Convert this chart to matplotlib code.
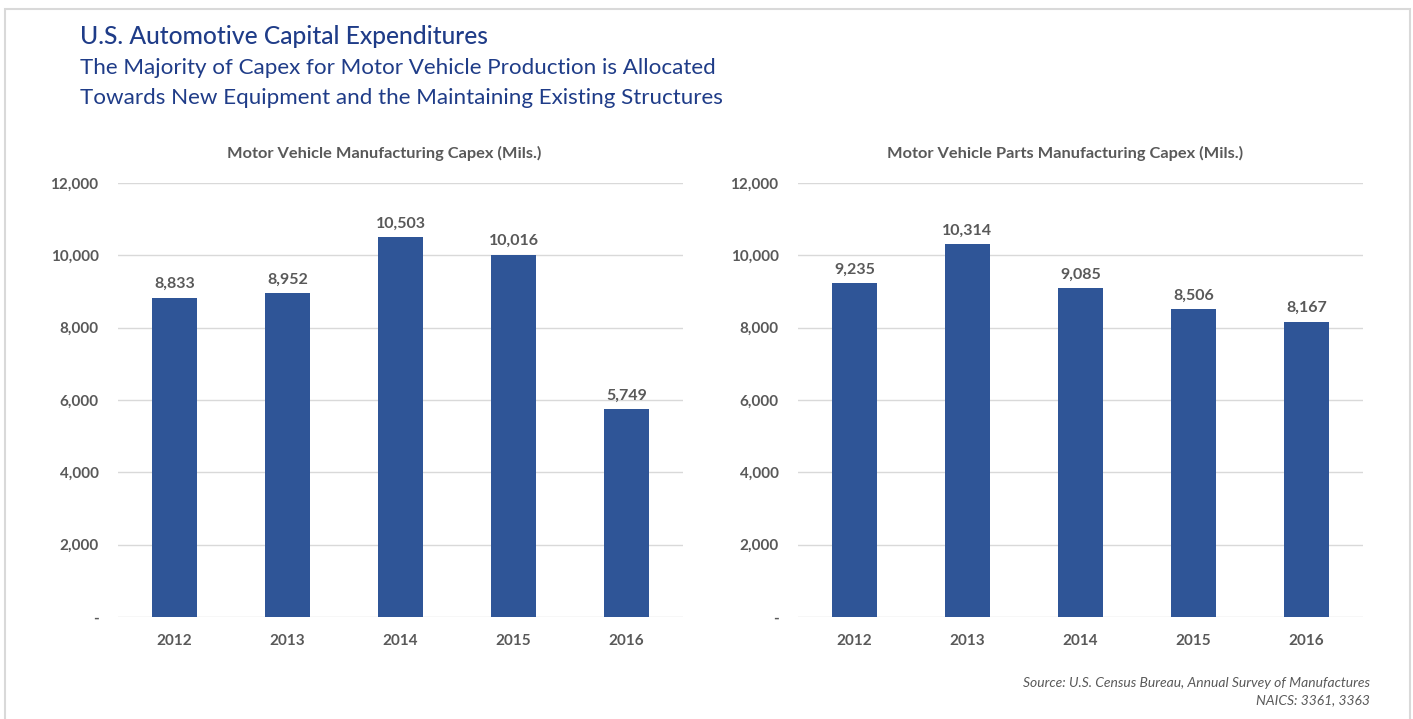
import matplotlib.pyplot as plt
from matplotlib.patches import Rectangle
from matplotlib.ticker import FuncFormatter

years = ["2012", "2013", "2014", "2015", "2016"]
vehicle_capex = [8833, 8952, 10503, 10016, 5749]
parts_capex = [9235, 10314, 9085, 8506, 8167]

bar_color = "#2F5597"
text_grey = "#595959"
title_blue = "#1F3C88"

plt.rcParams["font.family"] = ["Lato", "DejaVu Sans"]

fig = plt.figure(figsize=(14.13, 7.19), dpi=100)

# light frame around the whole panel
fig.patches.append(Rectangle((5 / 1413, -0.01), 1405 / 1413, 1 - 9 / 719 + 0.01,
                             transform=fig.transFigure, fill=False,
                             edgecolor="#D9D9D9", linewidth=1.5))

fig.text(80 / 1413, 1 - 37 / 719, "U.S. Automotive Capital Expenditures",
         fontsize=17.7, color=title_blue, va="center", fontweight="medium")
fig.text(80 / 1413, 1 - 68 / 719,
         "The Majority of Capex for Motor Vehicle Production is Allocated",
         fontsize=16.1, color=title_blue, va="center", fontweight="normal")
fig.text(80 / 1413, 1 - 98 / 719,
         "Towards New Equipment and the Maintaining Existing Structures",
         fontsize=16.1, color=title_blue, va="center", fontweight="normal")


def fmt(v, pos):
    return "-" if v == 0 else f"{int(v):,}"


def draw(ax, values, title):
    x = range(len(years))
    bars = ax.bar(x, values, width=0.4, color=bar_color, zorder=3)
    for b, v in zip(bars, values):
        ax.text(b.get_x() + b.get_width() / 2, v + 180, f"{v:,}",
                ha="center", va="bottom", fontsize=11.5, fontweight="bold",
                color=text_grey)
    ax.set_xlim(-0.5, len(years) - 0.5)
    ax.set_ylim(0, 12000)
    ax.set_yticks(range(0, 12001, 2000))
    ax.yaxis.set_major_formatter(FuncFormatter(fmt))
    ax.set_xticks(list(x))
    ax.set_xticklabels(years)
    ax.grid(axis="y", color="#D9D9D9", linewidth=1, zorder=0)
    for s in ax.spines.values():
        s.set_visible(False)
    ax.tick_params(length=0, labelsize=11, labelcolor=text_grey, pad=12)
    ax.tick_params(axis="y", pad=14)
    for lbl in ax.get_xticklabels() + ax.get_yticklabels():
        lbl.set_fontweight("bold")
    ax.set_title(title, fontsize=11.8, fontweight="bold", color=text_grey,
                 pad=18, x=0.472)


ax1 = fig.add_axes([118 / 1413, 1 - 617 / 719, 565 / 1413, 434 / 719])
ax2 = fig.add_axes([798 / 1413, 1 - 617 / 719, 565 / 1413, 434 / 719])
draw(ax1, vehicle_capex, "Motor Vehicle Manufacturing Capex (Mils.)")
draw(ax2, parts_capex, "Motor Vehicle Parts Manufacturing Capex (Mils.)")

fig.text(1370 / 1413, 1 - 683 / 719,
         "Source: U.S. Census Bureau, Annual Survey of Manufactures",
         fontsize=10, style="italic", color=text_grey, ha="right", va="center")
fig.text(1370 / 1413, 1 - 700 / 719, "NAICS: 3361, 3363",
         fontsize=10, style="italic", color=text_grey, ha="right", va="center")

fig.savefig("out.png", dpi=100)
